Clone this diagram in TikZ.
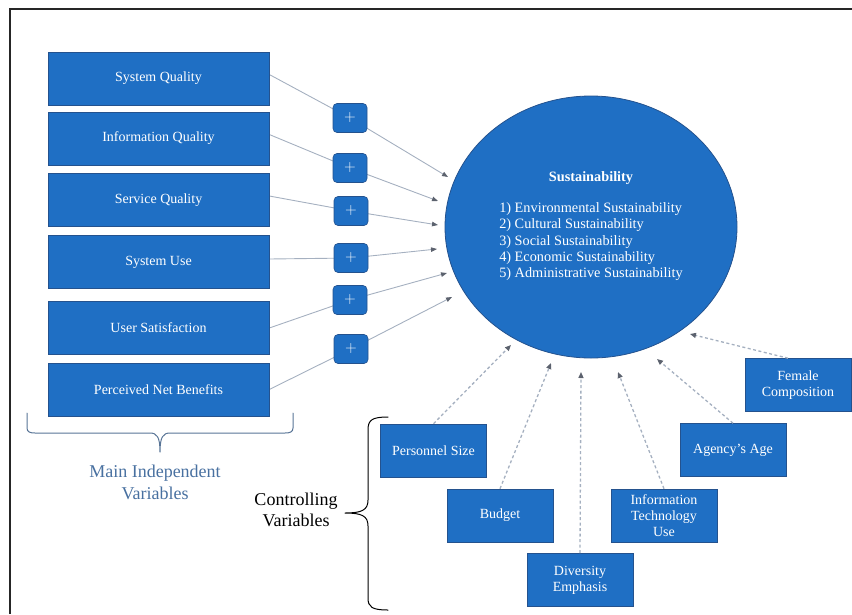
\documentclass[tikz,border=0pt]{standalone}
\usepackage{fontspec}
\setmainfont{Liberation Serif}
\usetikzlibrary{shapes.geometric,arrows.meta,backgrounds}
\definecolor{boxblue}{RGB}{31,111,196}
\definecolor{boxedge}{RGB}{36,82,142}
\definecolor{linkgray}{RGB}{165,176,192}
\definecolor{tipgray}{RGB}{92,98,110}
\definecolor{bracketblue}{RGB}{88,116,150}
\definecolor{labelblue}{RGB}{72,112,160}
\begin{document}
\begin{tikzpicture}[x=1pt,y=-1pt,
  basebox/.style={draw=boxedge, line width=0.6pt, fill=boxblue, text=white,
    inner sep=2pt, align=center, font=\fontsize{14}{16}\selectfont},
  varbox/.style={basebox, minimum width=221pt, minimum height=53pt},
  ctrlbox/.style={basebox, minimum width=106pt, minimum height=53pt},
  plusbox/.style={draw=boxedge, line width=0.6pt, fill=boxblue, text=white,
    rounded corners=4pt, minimum width=34pt, minimum height=29pt, inner sep=0pt,
    font=\fontsize{16}{16}\selectfont\sffamily},
  link/.style={draw=linkgray, line width=0.9pt,
    -{Triangle[length=6pt,width=4.5pt,color=tipgray]}},
  ctrllink/.style={draw=linkgray, line width=1.3pt, dash pattern=on 3pt off 2.5pt,
    -{Triangle[length=6pt,width=5pt,color=tipgray]}},
  bracket/.style={line width=1pt, line cap=round, line join=round}
]
\useasboundingbox (0,0) rectangle (852,614);

% frame
\draw[line width=1.5pt, draw=black!85] (10,614) -- (10,9) -- (852,9);

% main independent variables
\node[varbox] (b1) at (158.5,78.5) {System Quality};
\node[varbox] (b2) at (158.5,138.5) {Information Quality};
\node[varbox] (b3) at (158.5,200) {Service Quality};
\node[varbox] (b4) at (158.5,262) {System Use};
\node[varbox] (b5) at (158.5,328) {User Satisfaction};
\node[varbox] (b6) at (158.5,389.5) {Perceived Net Benefits};

% positive signs
\node[plusbox] (p1) at (350,118) {+};
\node[plusbox] (p2) at (350,168) {+};
\node[plusbox] (p3) at (351,211) {+};
\node[plusbox] (p4) at (351,258) {+};
\node[plusbox] (p5) at (350,300) {+};
\node[plusbox] (p6) at (351,349) {+};

% dependent variable
\node[ellipse, draw=boxedge, line width=0.8pt, fill=boxblue, text=white,
  minimum width=292pt, minimum height=262pt, inner sep=0pt, align=center,
  font=\fontsize{14.3}{16.3}\selectfont] (sus) at (591,227)
  {\textbf{Sustainability}\\[16pt]
   \begin{tabular}{@{}l@{}}
   1) Environmental Sustainability\\
   2) Cultural Sustainability\\
   3) Social Sustainability\\
   4) Economic Sustainability\\
   5) Administrative Sustainability
   \end{tabular}};

% arrow ends on the circle
\coordinate (t1) at (448,177);
\coordinate (t2) at (438,201);
\coordinate (t3) at (438,225);
\coordinate (t4) at (437,249);
\coordinate (t5) at (447,273);
\coordinate (t6) at (452,297);

\begin{scope}[on background layer]
  \draw[link] ([yshift=4pt]b1.east) -- (p1.center) -- (t1);
  \draw[link] ([yshift=4pt]b2.east) -- (p2.center) -- (t2);
  \draw[link] ([yshift=4pt]b3.east) -- (p3.center) -- (t3);
  \draw[link] ([yshift=3pt]b4.east) -- (p4.center) -- (t4);
  \draw[link] (b5.east) -- (p5.center) -- (t5);
  \draw[link] (b6.east) -- (p6.center) -- (t6);
\end{scope}

% controlling variables
\node[ctrlbox] (c1) at (433.5,450.5) {Personnel Size};
\node[ctrlbox] (c2) at (500,515.5) {Budget};
\node[ctrlbox] (c3) at (580,580) {Diversity\\Emphasis};
\node[ctrlbox] (c4) at (664,515.5) {Information\\Technology\\Use};
\node[ctrlbox] (c5) at (733,450) {Agency’s Age};
\node[ctrlbox] (c6) at (798,385) {Female\\Composition};

\coordinate (u1) at (511,345);
\coordinate (u2) at (551,363);
\coordinate (u3) at (581,372);
\coordinate (u4) at (618,372);
\coordinate (u5) at (657,359);
\coordinate (u6) at (690,334);

\draw[ctrllink] (c1.north) -- (u1);
\draw[ctrllink] (c2.north) -- (u2);
\draw[ctrllink] (c3.north) -- (u3);
\draw[ctrllink] (c4.north) -- (u4);
\draw[ctrllink] (c5.north) -- (u5);
\draw[ctrllink] ([xshift=-10pt]c6.north) -- (u6);

% bracket under the main independent variables
\draw[bracket, draw=bracketblue]
  (27,413) -- (27,428) .. controls (27,432) and (30,433) .. (35,433)
  -- (150,433) .. controls (157,433) and (160,437) .. (160,452)
  .. controls (160,437) and (163,433) .. (170,433)
  -- (285,433) .. controls (290,433) and (293,432) .. (293,428) -- (293,413);
\node[text=labelblue, align=center, font=\fontsize{18}{22}\selectfont] (mainlbl)
  at (155,482) {Main Independent\\Variables};

% brace for the controlling variables
\draw[bracket, draw=black]
  (388,417) .. controls (372,417) and (368,420) .. (368,430)
  -- (368,500) .. controls (368,510) and (362,513) .. (345,513)
  .. controls (362,513) and (368,516) .. (368,526)
  -- (368,598) .. controls (368,607) and (372,610) .. (388,610);
\node[text=black, align=center, font=\fontsize{18}{21}\selectfont] (ctrllbl)
  at (296,510) {Controlling\\Variables};
\end{tikzpicture}
\end{document}
